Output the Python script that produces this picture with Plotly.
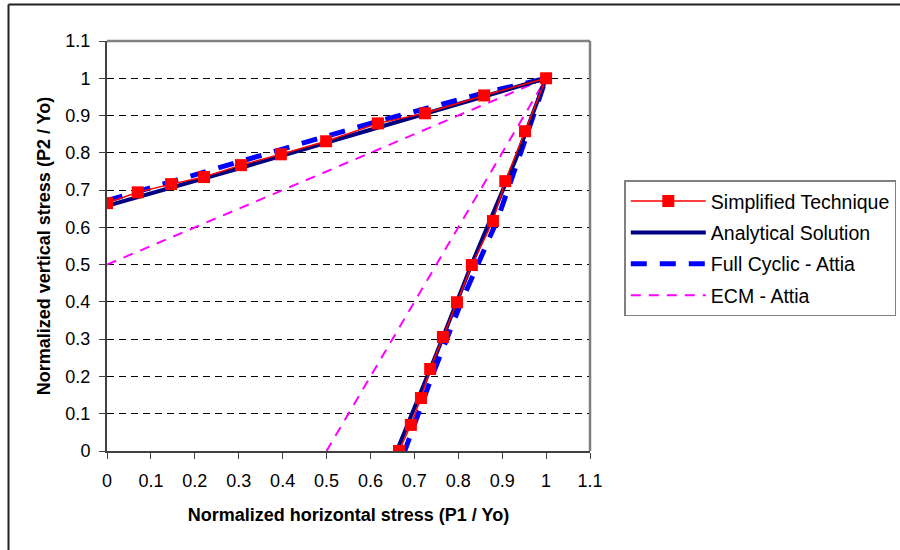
import plotly.graph_objects as go

# Simplified Technique
simp_x = [0, 0.070, 0.146, 0.221, 0.305, 0.396, 0.499, 0.617, 0.724, 0.859, 1.0,
          0.952, 0.907, 0.879, 0.831, 0.797, 0.765, 0.736, 0.715, 0.692, 0.665]
simp_y = [0.665, 0.694, 0.716, 0.735, 0.767, 0.796, 0.831, 0.879, 0.906, 0.954, 1.0,
          0.858, 0.724, 0.617, 0.499, 0.399, 0.306, 0.220, 0.142, 0.070, 0.0]

# Analytical Solution
ana_x = [0, 0.3, 0.6, 0.85, 1.0, 0.93, 0.83, 0.75, 0.66]
ana_y = [0.658, 0.758, 0.862, 0.948, 1.0, 0.78, 0.50, 0.26, 0.0]

# Full Cyclic - Attia
fc_x = [0, 0.3, 0.6, 0.85, 1.0, 0.948, 0.889, 0.807, 0.740, 0.678]
fc_y = [0.672, 0.774, 0.879, 0.958, 1.0, 0.82, 0.62, 0.40, 0.20, 0.0]

# ECM - Attia
ecm_x = [0, 1.0, 0.5]
ecm_y = [0.5, 1.0, 0.0]

x_ticks = [0, 0.1, 0.2, 0.3, 0.4, 0.5, 0.6, 0.7, 0.8, 0.9, 1, 1.1]
tick_text = ["0", "0.1", "0.2", "0.3", "0.4", "0.5", "0.6", "0.7", "0.8", "0.9", "1", "1.1"]

FONT = "Liberation Sans, Arial, sans-serif"
tick_font = dict(family=FONT, size=18, color="black")

fig = go.Figure()
fig.add_trace(go.Scatter(x=ecm_x, y=ecm_y, mode="lines", name="ECM - Attia",
                         legendrank=4, legendgroup="d",
                         line=dict(color="#FF00FF", width=2, dash="10px,8px")))
fig.add_trace(go.Scatter(x=fc_x, y=fc_y, mode="lines", name="Full Cyclic - Attia",
                         legendrank=3, legendgroup="c",
                         line=dict(color="#0000FF", width=5, dash="16px,13px")))
fig.add_trace(go.Scatter(x=ana_x, y=ana_y, mode="lines", name="Analytical Solution",
                         legendrank=2, legendgroup="b",
                         line=dict(color="#000080", width=4)))
fig.add_trace(go.Scatter(x=simp_x, y=simp_y, mode="lines+markers", name="Simplified Technique",
                         legendrank=1, legendgroup="a",
                         line=dict(color="#FF0000", width=1.5),
                         marker=dict(symbol="square", size=12, color="#FF0000")))

fig.update_layout(
    width=900, height=550,
    margin=dict(l=107, r=310, t=41, b=99, autoexpand=False),
    paper_bgcolor="white", plot_bgcolor="white",
    font=tick_font,
    showlegend=True,
    legend=dict(x=1.071, y=0.66, xanchor="left", yanchor="top",
                bordercolor="#808080", borderwidth=1.5,
                font=dict(family=FONT, size=19.5, color="black"),
                traceorder="grouped", itemwidth=75, tracegroupgap=3),
    xaxis=dict(range=[0, 1.1], tickvals=x_ticks, ticktext=tick_text,
               showgrid=False, zeroline=False, ticks="outside", ticklen=6,
               tickcolor="#404040", showline=True, linecolor="#404040", linewidth=2,
               ticklabelstandoff=6,
               title=dict(text="<b>Normalized horizontal stress (P1 / Yo)</b>", standoff=19,
                          font=dict(family=FONT, size=18)),
               tickfont=tick_font),
    yaxis=dict(range=[0, 1.1], tickvals=x_ticks, ticktext=tick_text,
               showgrid=True, gridcolor="black", griddash="7px,5px", gridwidth=1,
               zeroline=False, ticks="outside", ticklen=6,
               tickcolor="#404040", showline=True, linecolor="#404040", linewidth=2,
               ticklabelstandoff=5,
               title=dict(text="<b>Normalized vertical stress (P2 / Yo)</b>", standoff=10,
                          font=dict(family=FONT, size=18)),
               tickfont=tick_font),
    shapes=[
        dict(type="line", xref="paper", yref="paper", x0=0, x1=1, y0=1, y1=1,
             line=dict(color="#808080", width=2.5)),
        dict(type="line", xref="paper", yref="paper", x0=1, x1=1, y0=0, y1=1,
             line=dict(color="#808080", width=2.5)),
        dict(type="line", xref="paper", yref="paper",
             x0=(8.5 - 107) / 483, x1=(8.5 - 107) / 483,
             y0=(451 - 560) / 410, y1=(451 - 4.5) / 410,
             line=dict(color="#202020", width=2)),
        dict(type="line", xref="paper", yref="paper",
             x0=(8.5 - 107) / 483, x1=(910 - 107) / 483,
             y0=(451 - 4.5) / 410, y1=(451 - 4.5) / 410,
             line=dict(color="#202020", width=2)),
    ],
)

fig.write_html("out.html")
